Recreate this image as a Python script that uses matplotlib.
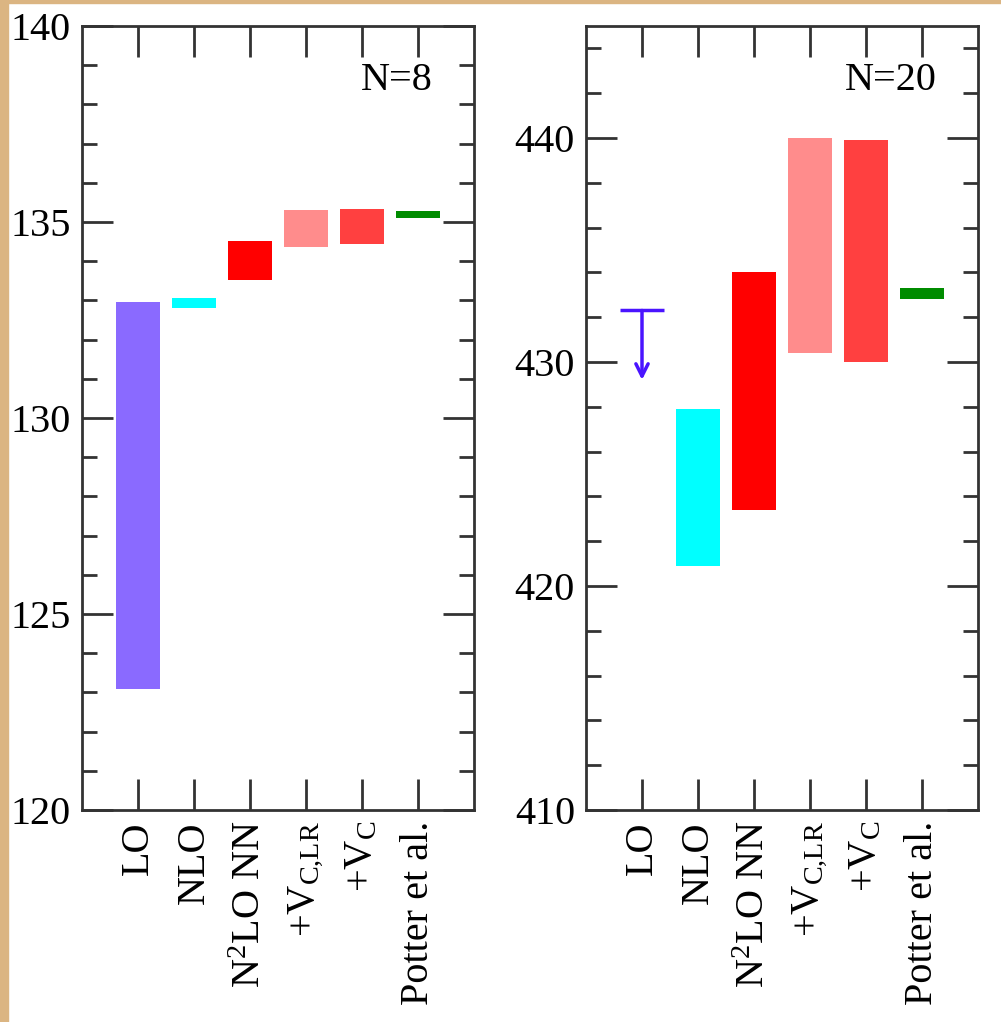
import matplotlib.pyplot as plt
from matplotlib.ticker import MultipleLocator
from matplotlib.patches import Rectangle

plt.rcParams['font.family'] = ['Liberation Serif', 'DejaVu Serif']
plt.rcParams['mathtext.fontset'] = 'custom'
plt.rcParams['mathtext.rm'] = 'Liberation Serif'
plt.rcParams['mathtext.it'] = 'Liberation Serif:italic'

categories = ['LO', 'NLO', r'N$^2$LO NN', r'+V$_{\mathrm{C{,}LR}}$', r'+V$_{\mathrm{C}}$', 'Potter et al.']

# N=8 bands (low, high)
n8_low = [123.08, 132.80, 133.52, 134.37, 134.43, 135.09]
n8_high = [132.95, 133.05, 134.51, 135.31, 135.33, 135.29]

# N=20 bands (LO is an upper bound, drawn as arrow)
n20_lo_bound = 432.3
n20_lo_arrow_end = 429.2
n20_low = [None, 420.9, 423.4, 430.4, 430.0, 432.8]
n20_high = [None, 427.9, 434.0, 440.0, 439.9, 433.3]

colors = ['#8a6aff', '#00ffff', '#ff0000', '#ff8c8c', '#ff4040', '#008c00']
width = 0.8

W, H = 1001, 1022
fig = plt.figure(figsize=(W / 100, H / 100), dpi=100)
fig.patches.append(Rectangle((0, 0), 8 / W, 1, transform=fig.transFigure, color='#dbb582', zorder=-1))
fig.patches.append(Rectangle((0, 1 - 3 / H), 1, 3 / H, transform=fig.transFigure, color='#dbb582', zorder=-1))

ax1 = fig.add_axes([82 / W, 1 - 810 / H, 392 / W, 784 / H])
ax2 = fig.add_axes([586 / W, 1 - 810 / H, 392 / W, 784 / H])

x = list(range(1, len(categories) + 1))

for i in range(len(categories)):
    ax1.bar(x[i], n8_high[i] - n8_low[i], bottom=n8_low[i], width=width,
            color=colors[i], linewidth=0)
    if n20_low[i] is not None:
        ax2.bar(x[i], n20_high[i] - n20_low[i], bottom=n20_low[i], width=width,
                color=colors[i], linewidth=0)

# LO upper limit for N=20
ax2.hlines(n20_lo_bound, x[0] - width / 2, x[0] + width / 2, color='#4a14ff', lw=2.5)
ax2.annotate('', xy=(x[0], n20_lo_arrow_end), xytext=(x[0], n20_lo_bound),
             arrowprops=dict(arrowstyle='->', color='#4a14ff', lw=2.5,
                             mutation_scale=22, shrinkA=0, shrinkB=0))

for ax, ylim, minor, label in [(ax1, (120, 140), 1, 'N=8'), (ax2, (410, 445), 2, 'N=20')]:
    ax.set_xlim(0, 7)
    ax.set_ylim(*ylim)
    ax.yaxis.set_major_locator(MultipleLocator(5 if ax is ax1 else 10))
    ax.yaxis.set_minor_locator(MultipleLocator(minor))
    ax.set_xticks(x)
    ax.set_xticklabels(categories, rotation=90, fontsize=29)
    ax.tick_params(axis='both', which='major', direction='in', length=22, width=2,
                   top=True, right=True, labelsize=29, color='#333333', pad=8)
    ax.tick_params(axis='y', which='minor', direction='in', length=11, width=2,
                   right=True, color='#333333')
    for s in ax.spines.values():
        s.set_linewidth(2)
        s.set_color('#333333')
    ax.text(0.895, 0.93, label, transform=ax.transAxes, ha='right', va='center', fontsize=29)

fig.savefig('out.png', dpi=100)
